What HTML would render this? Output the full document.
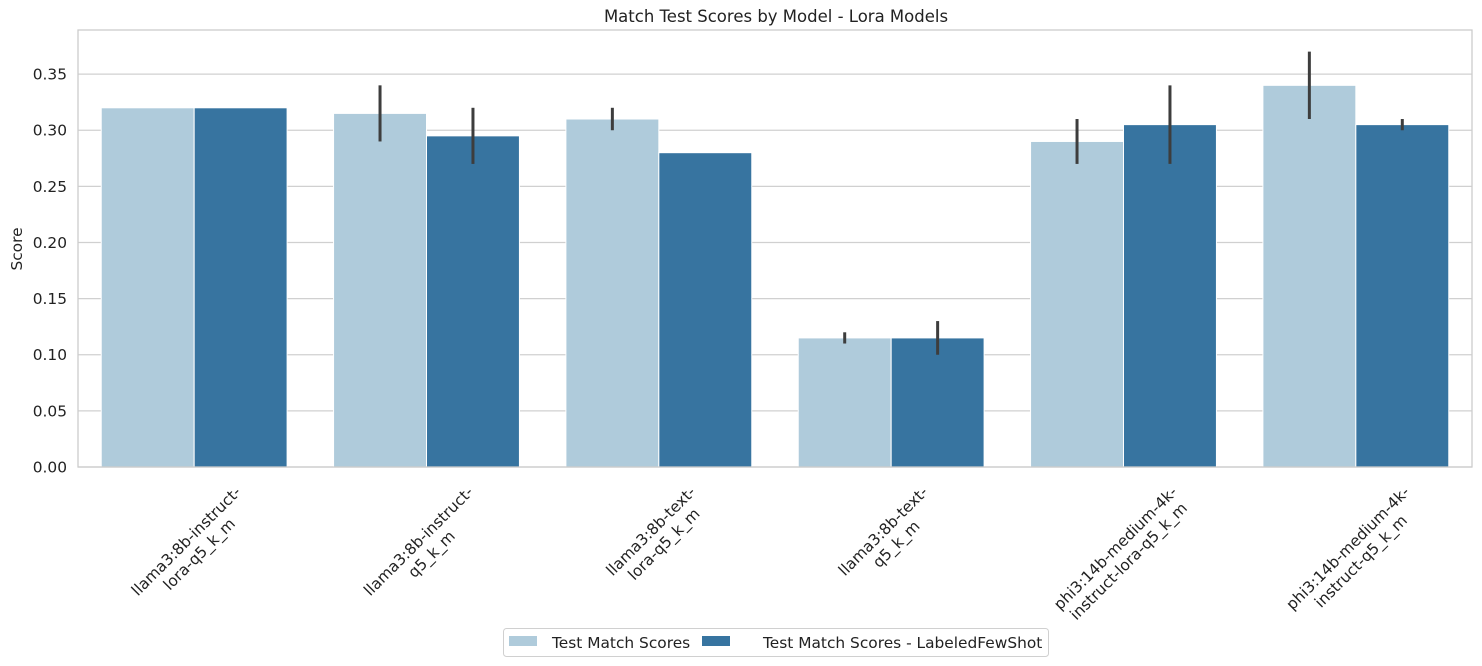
<!DOCTYPE html>
<html><head><meta charset="utf-8"><style>
html,body{margin:0;padding:0;background:#fff;}
svg{display:block;font-family:"DejaVu Sans","Liberation Sans",sans-serif;}
</style></head><body>
<svg id="chart" width="1482" height="666">
<text x="776" y="22" text-anchor="middle" font-size="16.5" fill="#222">Match Test Scores by Model - Lora Models</text>
<text transform="translate(22,249) rotate(-90)" text-anchor="middle" font-size="15.4" fill="#222">Score</text>
<g id="grid"></g><g id="bars"></g><g id="errs"></g><g id="yticks"></g><g id="xticks"></g>
<rect x="78" y="30" width="1394" height="437" fill="none" stroke="#cccccc" stroke-width="1.3"/>
<g>
<rect x="503.5" y="628.5" width="545" height="28" rx="3" fill="#fff" stroke="#d0d0d0"/>
<g>
<rect x="509" y="636" width="28" height="10" fill="#afcbdb"/>
<text x="552" y="648" font-size="15.4" fill="#222">Test Match Scores</text></g>
<g>
<rect x="702" y="636" width="28" height="10" fill="#3774a0"/>
<text x="763" y="648" font-size="15.4" fill="#222">Test Match Scores - LabeledFewShot</text></g>
</g>
</svg>
<script>
const categories=[["llama3:8b-instruct-","lora-q5_k_m"],["llama3:8b-instruct-","q5_k_m"],["llama3:8b-text-","lora-q5_k_m"],["llama3:8b-text-","q5_k_m"],["phi3:14b-medium-4k-","instruct-lora-q5_k_m"],["phi3:14b-medium-4k-","instruct-q5_k_m"]];
const testScores=[0.32,0.315,0.31,0.115,0.29,0.34];
const fewShotScores=[0.32,0.295,0.28,0.115,0.305,0.305];
const testErrLo=[null,0.29,0.30,0.11,0.27,0.31];
const testErrHi=[null,0.34,0.32,0.12,0.31,0.37];
const fewErrLo=[null,0.27,null,0.10,0.27,0.30];
const fewErrHi=[null,0.32,null,0.13,0.34,0.31];
const yTicks=[0,0.05,0.10,0.15,0.20,0.25,0.30,0.35];
const NS="http://www.w3.org/2000/svg";
const L=78,R=1472,T=30,B=467,yMax=0.3893;
const y=v=>B-(v/yMax)*(B-T);
const gw=(R-L)/categories.length;
const cx=i=>L+gw*(i+0.5);
const bw=gw*0.4;
function mk(tag,parent,attrs){const e=document.createElementNS(NS,tag);for(const k in attrs)e.setAttribute(k,attrs[k]);document.getElementById(parent).appendChild(e);return e;}
yTicks.forEach(t=>{
 const l=mk('line','grid',{x1:L,x2:R,y1:y(t),y2:y(t),stroke:'#d0d0d0','stroke-width':1.2});
 
 
 const tx=mk('text','yticks',{x:L-11,y:y(t)+5.5,'text-anchor':'end','font-size':15.4,fill:'#222'});
 tx.textContent=t.toFixed(2);
 
 
});
function err(x,lo,hi){if(lo==null)return;const e=mk('line','errs',{x1:x,x2:x,y1:y(lo),y2:y(hi),stroke:'#3d3d3d','stroke-width':3});
 
 }
categories.forEach((c,i)=>{
 const b1=mk('rect','bars',{x:cx(i)-bw,y:y(testScores[i]),width:bw,height:B-y(testScores[i]),fill:'#afcbdb',stroke:'#fff','stroke-width':1});
 
 
 const b2=mk('rect','bars',{x:cx(i),y:y(fewShotScores[i]),width:bw,height:B-y(fewShotScores[i]),fill:'#3774a0',stroke:'#fff','stroke-width':1});
 
 
 err(cx(i)-bw/2,testErrLo[i],testErrHi[i]);
 err(cx(i)+bw/2,fewErrLo[i],fewErrHi[i]);
 const g=mk('g','xticks',{});
 
 
 const t=document.createElementNS(NS,'text');
 t.setAttribute('font-size','15.4');t.setAttribute('fill','#222');t.setAttribute('text-anchor','middle');
 c.forEach((s,k)=>{const sp=document.createElementNS(NS,'tspan');sp.setAttribute('x',0);sp.setAttribute('y',k*18.5);sp.textContent=s;t.appendChild(sp);});
 g.appendChild(t);
 const bb=t.getBBox();
 const w=bb.width,h=bb.height;
 const ext=(w+h)/Math.SQRT2;
 const ccx=bb.x+w/2,ccy=bb.y+h/2;
 const top=483;
 g.setAttribute('transform',`translate(${cx(i)-1},${top+ext/2}) rotate(-45) translate(${-ccx},${-ccy})`);
});
</script>
</body></html>
